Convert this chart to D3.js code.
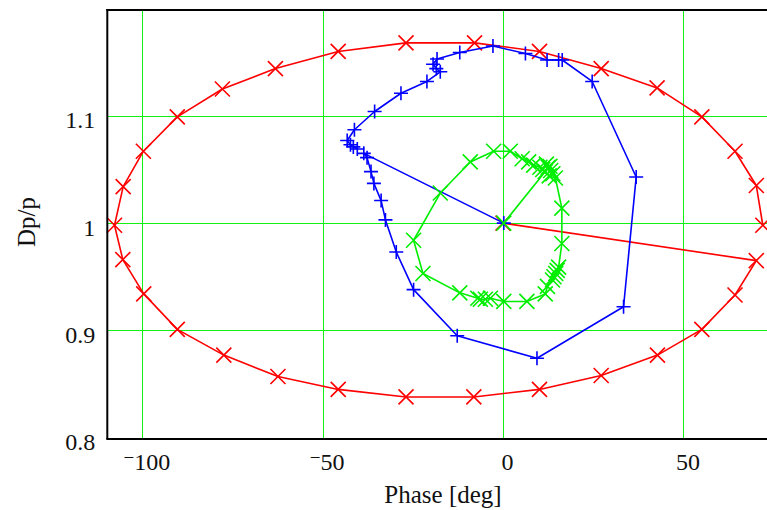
<!DOCTYPE html>
<html><head><meta charset="utf-8">
<script src="https://cdn.jsdelivr.net/npm/d3@7"></script>
<style>html,body{margin:0;padding:0;background:#fff;overflow:hidden}</style>
</head><body>
<svg id="c" width="767" height="510"></svg>
<script>
// ---- data ----
const xTicks = [-100, -50, 0, 50];
const yTicks = [0.8, 0.9, 1, 1.1];
const xLabel = "Phase [deg]";
const yLabel = "Dp/p";

const redPhase = [0, 70.2, 64.3, 55.1, 42.8, 27.2, 10.1, -8.1, -26.9, -45.7, -62.4, -77.4, -90.3, -99.6, -105.4, -107.7, -105.3, -99.7, -90.3, -77.8, -63.1, -45.7, -26.9, -7.9, 10.1, 27.2, 42.7, 55.1, 64.3, 70.2, 72.0];
const redDp    = [1.0, 0.965, 0.933, 0.901, 0.877, 0.858, 0.845, 0.838, 0.838, 0.845, 0.857, 0.877, 0.901, 0.934, 0.966, 0.998, 1.034, 1.067, 1.099, 1.125, 1.144, 1.160, 1.168, 1.168, 1.160, 1.144, 1.126, 1.099, 1.067, 1.035, 0.998];

const bluePhase = [0.2, -38.6, -37.7, -36.6, -35.8, -33.8, -32.6, -29.6, -24.8, -12.7, 9.4, 33.4, 36.9, 24.7, 16.4, 15.4, 12.2, 6.2, -2.8, -12.0, -18.3, -19.4, -18.5, -17.4, -21.1, -28.3, -35.6, -41.2, -43.2, -42.3, -41.5, -40.4];
const blueDp    = [1.0, 1.065, 1.061, 1.048, 1.037, 1.021, 1.003, 0.973, 0.938, 0.895, 0.874, 0.922, 1.043, 1.132, 1.152, 1.152, 1.152, 1.158, 1.165, 1.159, 1.153, 1.148, 1.144, 1.141, 1.132, 1.121, 1.104, 1.087, 1.077, 1.073, 1.071, 1.069];

const greenPhase = [0.2, 11.7, 12.5, 13.2, 13.8, 12.8, 14.5, 16.3, 16.3, 15.4, 15.0, 14.6, 14.1, 13.7, 12.3, 11.7, 6.6, 0.2, -3.5, -4.9, -6.3, -7.0, -12.0, -22.2, -24.8, -17.4, -9.1, -2.6, 2.0, 5.3, 7.1, 8.5, 10.2, 11.0, 12.0, 13.0];
const greenDp    = [1.0, 1.048, 1.052, 1.049, 1.046, 1.044, 1.042, 1.014, 0.981, 0.959, 0.956, 0.953, 0.950, 0.947, 0.941, 0.934, 0.927, 0.927, 0.930, 0.929, 0.929, 0.930, 0.935, 0.953, 0.984, 1.028, 1.057, 1.067, 1.067, 1.060, 1.057, 1.054, 1.052, 1.050, 1.055, 1.053];

// ---- layout ----
const L = 107.3, R = 767.5, T = 10, B = 438;
const x = d3.scaleLinear().domain([-109.7, 73.3]).range([L, R]);
const y = d3.scaleLinear().domain([0.8, 1.2]).range([437.7, 8.5]);

const svg = d3.select("#c");
const font = "'Liberation Serif','Times New Roman',serif";

// grid
const gx = svg.append("g").attr("transform", `translate(0,${B})`)
  .call(d3.axisBottom(x).tickValues(xTicks).tickSize(-(B - T)).tickFormat(""));
gx.select(".domain").remove();
gx.selectAll("line").attr("stroke", "#11f011").attr("stroke-width", 1).attr("shape-rendering", "crispEdges");
const gy = svg.append("g").attr("transform", `translate(${L},0)`)
  .call(d3.axisLeft(y).tickValues(yTicks).tickSize(-(R - L)).tickFormat(""));
gy.select(".domain").remove();
gy.selectAll("line").attr("stroke", "#11f011").attr("stroke-width", 1).attr("shape-rendering", "crispEdges");

// series
function series(ph, dp, color, marker, s) {
  const pts = ph.map((p, i) => [x(p), y(dp[i])]);
  svg.append("path").attr("d", d3.line()(pts)).attr("fill", "none")
    .attr("stroke", color).attr("stroke-width", 1.6).attr("stroke-linejoin", "round");
  const m = marker === "x"
    ? `M${-s},${-s}L${s},${s}M${-s},${s}L${s},${-s}`
    : `M${-s},0H${s}M0,${-s}V${s}`;
  svg.append("g").selectAll("path").data(pts).join("path")
    .attr("transform", d => `translate(${d[0]},${d[1]})`)
    .attr("d", m).attr("fill", "none").attr("stroke", color).attr("stroke-width", 1.6);
}
series(redPhase, redDp, "#ff0000", "x", 7.5);
series(bluePhase, blueDp, "#0000ff", "+", 7);
series(greenPhase, greenDp, "#00ee00", "x", 7.5);

// frame
svg.append("line").attr("x1", L).attr("x2", L).attr("y1", T - 1).attr("y2", B + 1)
  .attr("stroke", "#000").attr("stroke-width", 2);
svg.append("line").attr("x1", L - 1).attr("x2", 767).attr("y1", T).attr("y2", T)
  .attr("stroke", "#000").attr("stroke-width", 2);
svg.append("line").attr("x1", L - 1).attr("x2", 767).attr("y1", B + 1).attr("y2", B + 1)
  .attr("stroke", "#000").attr("stroke-width", 2);

// x tick labels
const ax = svg.append("g").attr("transform", `translate(4,${B})`)
  .call(d3.axisBottom(x).tickValues(xTicks).tickSize(0).tickPadding(0).tickFormat(d => d));
ax.select(".domain").remove();
ax.selectAll("text").each(function(d) {
  const t = d3.select(this);
  t.text(null).attr("y", 32).attr("dy", null)
    .attr("font-family", font).attr("font-size", 24).attr("fill", "#111");
  if (d < 0) {
    t.append("tspan").text("\u2212").attr("dy", -6).attr("font-size", 19);
    t.append("tspan").text(String(Math.abs(d))).attr("dy", 6);
  } else {
    t.append("tspan").text(String(d));
  }
});

// y tick labels
const ay = svg.append("g").attr("transform", `translate(${L},0)`)
  .call(d3.axisLeft(y).tickValues(yTicks).tickSize(0).tickPadding(12).tickFormat(d => String(d)));
ay.select(".domain").remove();
ay.selectAll("text").attr("dy", "12").attr("font-family", font).attr("font-size", 24).attr("fill", "#111");

// axis titles
svg.append("text").attr("x", 443).attr("y", 503).attr("text-anchor", "middle")
  .attr("font-family", font).attr("font-size", 25).attr("fill", "#111").text(xLabel);
svg.append("text").attr("transform", "translate(35,222) rotate(-90)").attr("text-anchor", "middle")
  .attr("font-family", font).attr("font-size", 25).attr("fill", "#111").text(yLabel);
</script>
</body></html>
